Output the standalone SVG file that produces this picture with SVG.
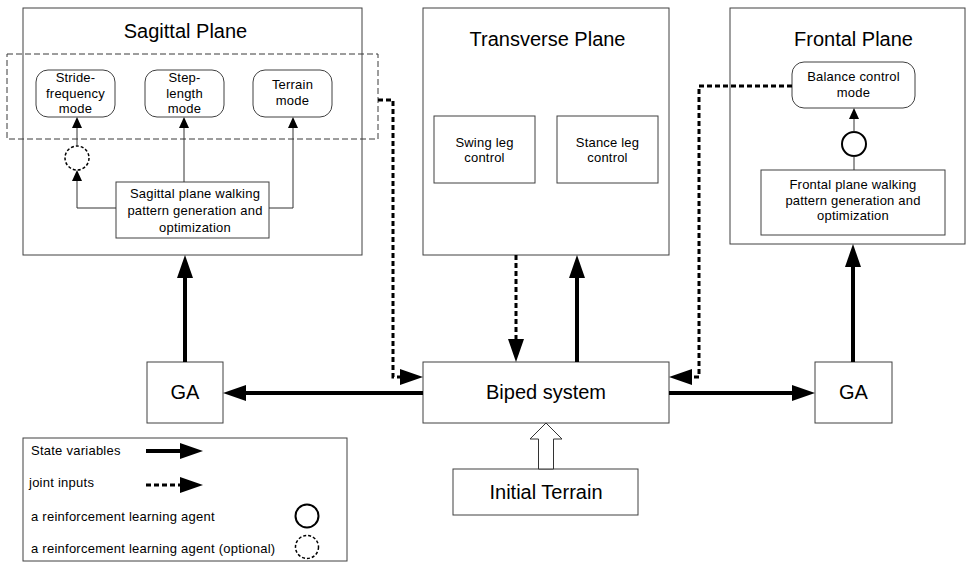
<svg xmlns="http://www.w3.org/2000/svg" width="968" height="562" viewBox="0 0 968 562">
<style>
text{font-family:"Liberation Sans",Arial,sans-serif;fill:#000}
.t{font-size:20px;text-anchor:middle}
.s{font-size:13px;text-anchor:middle;letter-spacing:0.2px}
.l{font-size:13px;letter-spacing:0.25px}
.box{fill:#fff;stroke:#404040;stroke-width:1}
.frame{fill:none;stroke:#404040;stroke-width:1}
.thick{fill:none;stroke:#000;stroke-width:4}
.dash{fill:none;stroke:#000;stroke-width:3;stroke-dasharray:5 3}
.thin{fill:none;stroke:#333;stroke-width:1}
</style>
<defs>
<marker id="big" markerUnits="userSpaceOnUse" markerWidth="23" markerHeight="16" refX="2" refY="8" orient="auto"><path d="M0,0 L23,8 L0,16 z" fill="#000"/></marker>
<marker id="sm" markerUnits="userSpaceOnUse" markerWidth="11" markerHeight="10" refX="1" refY="5" orient="auto"><path d="M0,0 L11,5 L0,10 z" fill="#000"/></marker>
</defs>

<g id="sagittal">
<rect class="frame" x="23" y="8" width="339" height="247"/>
<text class="t" x="185.5" y="38">Sagittal Plane</text>
<rect x="7" y="54" width="371" height="85" fill="none" stroke="#3a3a3a" stroke-width="1" stroke-dasharray="6 3"/>
</g>
<g id="stride">
<rect class="box" x="36" y="70" width="79" height="47" rx="12"/>
<text class="s" x="75.5" y="82">Stride-</text>
<text class="s" x="75.5" y="97.5">frequency</text>
<text class="s" x="75.5" y="113">mode</text>
</g>
<g id="step">
<rect class="box" x="145" y="70" width="79" height="47" rx="12"/>
<text class="s" x="184.5" y="82">Step-</text>
<text class="s" x="184.5" y="97.5">length</text>
<text class="s" x="184.5" y="113">mode</text>
</g>
<g id="terrain">
<rect class="box" x="253" y="70" width="79" height="47" rx="12"/>
<text class="s" x="292.5" y="89">Terrain</text>
<text class="s" x="292.5" y="105">mode</text>
</g>
<g id="sag-agent">
<circle cx="77" cy="158" r="12" fill="#fff" stroke="#000" stroke-width="1.5" stroke-dasharray="3 2"/>
</g>
<g id="sag-walk">
<rect class="box" x="116" y="182" width="153" height="56"/>
<text class="s" x="195" y="198">Sagittal plane walking</text>
<text class="s" x="195" y="215">pattern generation and</text>
<text class="s" x="195" y="232">optimization</text>
</g>

<g id="transverse">
<rect class="frame" x="423" y="8" width="246" height="247"/>
<text class="t" x="547.5" y="46">Transverse Plane</text>
</g>
<g id="swing">
<rect class="box" x="434" y="116" width="101" height="67"/>
<text class="s" x="484.5" y="147">Swing leg</text>
<text class="s" x="484.5" y="162">control</text>
</g>
<g id="stance">
<rect class="box" x="557" y="116" width="101" height="67"/>
<text class="s" x="607.5" y="147">Stance leg</text>
<text class="s" x="607.5" y="162">control</text>
</g>

<g id="frontal">
<rect class="frame" x="730" y="8" width="235" height="236"/>
<text class="t" x="853.5" y="46">Frontal Plane</text>
</g>
<g id="balance">
<rect class="box" x="792" y="62" width="123" height="46" rx="12"/>
<text class="s" x="853.5" y="81">Balance control</text>
<text class="s" x="853.5" y="97">mode</text>
</g>
<g id="front-agent">
<circle cx="854" cy="144" r="12" fill="#fff" stroke="#000" stroke-width="2"/>
</g>
<g id="front-walk">
<rect class="box" x="761" y="170" width="184" height="65"/>
<text class="s" x="853" y="189">Frontal plane walking</text>
<text class="s" x="853" y="205">pattern generation and</text>
<text class="s" x="853" y="220">optimization</text>
</g>

<g id="ga-left">
<rect class="box" x="147" y="362" width="76" height="61"/>
<text class="t" x="185" y="399">GA</text>
</g>
<g id="biped">
<rect class="box" x="423" y="362" width="246" height="61"/>
<text class="t" x="546" y="399">Biped system</text>
</g>
<g id="ga-right">
<rect class="box" x="815" y="362" width="77" height="61"/>
<text class="t" x="853.5" y="399">GA</text>
</g>
<g id="initial-terrain">
<rect class="box" x="453" y="469" width="185" height="46"/>
<text class="t" x="546" y="499">Initial Terrain</text>
</g>

<g id="connectors">
<path class="thick" d="M185,362 V276" marker-end="url(#big)"/>
<path class="thick" d="M423,393 H244" marker-end="url(#big)"/>
<path class="thick" d="M669,393 H794" marker-end="url(#big)"/>
<path class="thick" d="M853,362 V265" marker-end="url(#big)"/>
<path class="thick" d="M577,362 V276" marker-end="url(#big)"/>
<path class="dash" d="M516,255 V341" marker-end="url(#big)"/>
<path class="dash" d="M378,100 H393 V377 H402" marker-end="url(#big)"/>
<path class="dash" d="M792,86 H699 V377 H690" marker-end="url(#big)"/>
<path class="thin" d="M116,208 H77 V180" marker-end="url(#sm)"/>
<path class="thin" d="M77,146 V127" marker-end="url(#sm)"/>
<path class="thin" d="M184,182 V127" marker-end="url(#sm)"/>
<path class="thin" d="M269,208 H293 V127" marker-end="url(#sm)"/>
<path class="thin" d="M854,132 V118" marker-end="url(#sm)"/>
<path class="thin" d="M854,156 V170"/>
<polygon points="538.5,469 538.5,439 530,439 546,423 562,439 553.5,439 553.5,469" fill="#fff" stroke="#333" stroke-width="1"/>
</g>

<g id="legend">
<rect class="box" x="23" y="438" width="324" height="123"/>
<text class="l" x="31" y="455">State variables</text>
<path class="thick" d="M146,451 H182" marker-end="url(#big)"/>
<text class="l" x="29" y="487">joint inputs</text>
<path class="dash" d="M146,485 H182" marker-end="url(#big)"/>
<text class="l" x="31" y="521">a reinforcement learning agent</text>
<circle cx="307" cy="516" r="11.5" fill="#fff" stroke="#000" stroke-width="2"/>
<text class="l" x="31" y="553">a reinforcement learning agent (optional)</text>
<circle cx="307" cy="547" r="11.5" fill="#fff" stroke="#000" stroke-width="1.5" stroke-dasharray="3 2"/>
</g>
</svg>
